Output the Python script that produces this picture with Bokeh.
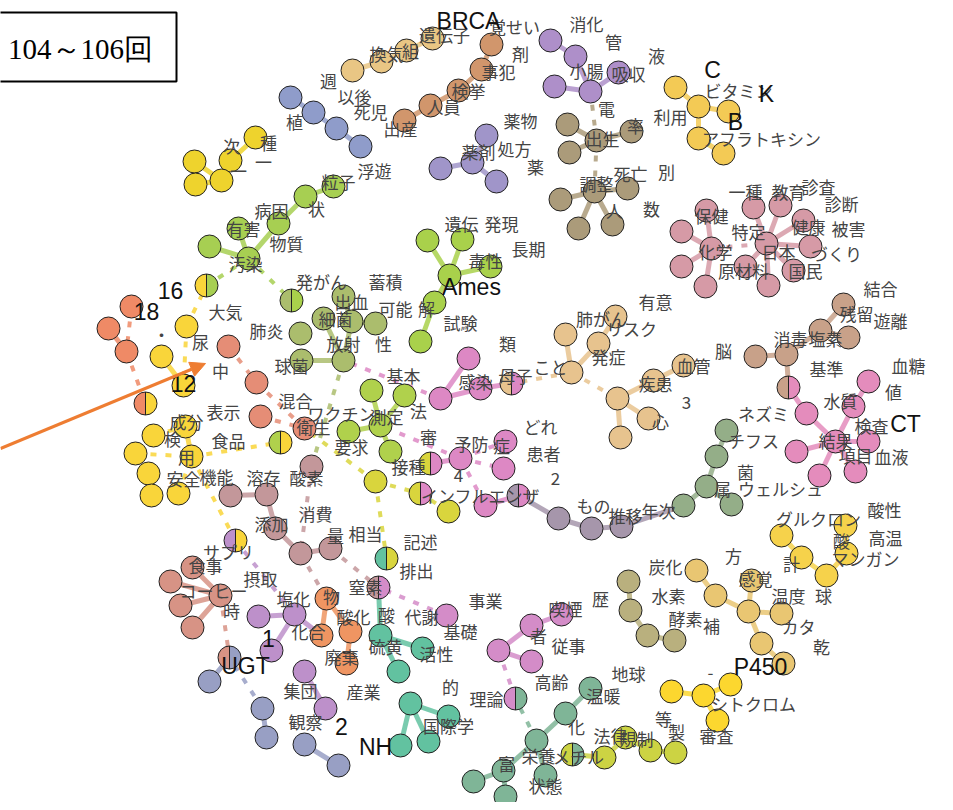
import math
from bokeh.plotting import figure
from bokeh.models import Range1d, Arrow, NormalHead
from bokeh.core.properties import value
from bokeh.embed import file_html
from bokeh.resources import INLINE

# ---------------- data: clusters (id, x, y) in layout coordinates ----------------
tan_nodes = [("a1", 354, 72), ("a2", 383, 63), ("a3", 408, 52), ("a4", 434, 40)]
brown_nodes = [("b1", 493, 46), ("b2", 483, 71), ("b3", 460, 92), ("b4", 432, 107), ("b5", 406, 122)]
digest_nodes = [("c1", 552, 42), ("c2", 577, 58), ("c3", 556, 88), ("c4", 592, 93), ("c5", 620, 74)]
drug_nodes = [("n1", 488, 137), ("n2", 474, 164), ("n3", 442, 170), ("n4", 498, 183)]
birth_nodes = [("d1", 569, 126), ("d2", 598, 142), ("d3", 633, 133), ("d4", 571, 154), ("d5", 596, 193),
               ("d6", 562, 201), ("d7", 629, 190), ("d8", 580, 230), ("d9", 614, 226)]
vitamin_nodes = [("e1", 677, 89), ("e2", 700, 108), ("e3", 730, 113), ("e4", 700, 140), ("e5", 725, 155)]
float_nodes = [("f1", 292, 99), ("f2", 315, 114), ("f3", 338, 130), ("f4", 362, 148)]
kind_nodes = [("g1", 257, 139), ("g2", 232, 162), ("g3", 196, 163), ("g4", 197, 186), ("g5", 223, 182)]
pollute_nodes = [("h1", 335, 188), ("h2", 307, 198), ("h3", 280, 225), ("h4", 240, 230), ("h5", 211, 248), ("h6", 250, 260)]
red_nodes = [("i1", 133, 308), ("i2", 110, 330), ("i3", 128, 353)]
gold_nodes = [("j1", 188, 328), ("j2", 163, 358), ("j3", 185, 387), ("k1", 155, 437), ("k2", 137, 455),
              ("k3", 150, 475), ("k4", 153, 497), ("k5", 180, 495), ("k6", 193, 458), ("k7", 187, 428)]
salmon_nodes = [("l1", 230, 348), ("l2", 258, 384), ("l3", 262, 418), ("l4", 306, 430)]
bact_nodes = [("m1", 345, 298), ("m2", 325, 320), ("m3", 302, 335), ("m4", 353, 323), ("m5", 377, 325),
              ("m6", 345, 362), ("m7", 303, 362)]
ames_nodes = [("am1", 429, 242), ("am2", 464, 241), ("am3", 451, 277), ("am4", 492, 268), ("am5", 436, 304), ("am6", 422, 343)]
vaccine_nodes = [("o1", 373, 392), ("o2", 406, 397), ("o3", 350, 433), ("o4", 392, 453), ("o5", 382, 427)]
infect_nodes = [("q1", 470, 360), ("q2", 442, 400), ("q3", 482, 390), ("r1", 507, 443), ("r2", 462, 460),
                ("r3", 505, 470), ("r4", 487, 507)]
demand_nodes = [("p1", 377, 483), ("p2", 450, 513)]
trend_nodes = [("t1", 560, 520), ("t2", 593, 530), ("t3", 623, 528)]
typhus_nodes = [("u1", 728, 432), ("u2", 718, 458), ("u3", 708, 488), ("u4", 733, 506), ("u5", 685, 507)]
risk_nodes = [("v1", 617, 318), ("v2", 567, 336), ("v3", 600, 345), ("v4", 573, 374), ("v5", 655, 382),
              ("v6", 685, 367), ("v7", 619, 400), ("v8", 650, 420), ("v9", 622, 439)]
chlorine_nodes = [("w1", 845, 306), ("w2", 822, 332), ("w3", 850, 339), ("w4", 788, 356), ("w5", 757, 358)]
blood_nodes = [("x1", 870, 383), ("x2", 855, 408), ("x3", 808, 415), ("x4", 837, 443), ("x5", 798, 453),
               ("x6", 870, 443), ("x7", 857, 473), ("x8", 821, 477)]
health_nodes = [("y1", 708, 212), ("y2", 755, 209), ("y3", 782, 207), ("y4", 805, 222), ("y5", 683, 233),
                ("y6", 713, 250), ("y7", 768, 245), ("y8", 812, 248), ("y9", 683, 268), ("y10", 747, 268),
                ("y11", 795, 272), ("y12", 707, 288), ("y13", 770, 287)]
acid_nodes = [("z1", 783, 537), ("z2", 803, 559), ("z3", 828, 577), ("z4", 848, 555), ("z5", 847, 527)]
sense_nodes = [("aa1", 698, 572), ("aa2", 717, 597), ("aa3", 750, 613), ("aa4", 753, 582), ("aa5", 783, 615),
               ("aa6", 763, 645), ("aa7", 785, 665)]
hydro_nodes = [("bb1", 630, 583), ("bb2", 632, 612), ("bb3", 649, 637), ("bb4", 676, 642)]
p450_nodes = [("cc1", 673, 693), ("cc2", 705, 697), ("cc3", 732, 686), ("cc4", 719, 722)]
law_nodes = [("dd1", 606, 759), ("dd2", 627, 739), ("dd3", 652, 752), ("dd4", 677, 754)]
warm_nodes = [("ee1", 592, 690), ("ee2", 567, 715), ("ee3", 538, 742), ("ee4", 505, 772), ("ee5", 547, 777),
              ("ee6", 475, 783), ("ee7", 507, 798)]
smoke_nodes = [("ff0", 448, 617), ("ff1", 533, 627), ("ff2", 563, 616), ("ff3", 500, 652), ("ff4", 533, 663)]
nh_nodes = [("gg1", 412, 705), ("gg2", 450, 718), ("gg3", 402, 747), ("gg4", 430, 743), ("gg5", 400, 673),
            ("gg6", 424, 650), ("gg7", 382, 637)]
waste_nodes = [("hh1", 328, 600), ("hh2", 323, 637), ("hh3", 352, 633), ("hh4", 348, 665)]
salt_nodes = [("ii1", 260, 618), ("ii2", 296, 616), ("ii3", 273, 652), ("ii4", 306, 673), ("ii5", 327, 710)]
oxygen_nodes = [("jj0", 313, 468), ("jj1", 232, 497), ("jj2", 268, 496), ("jj3", 277, 530), ("jj4", 302, 555),
                ("jj5", 332, 550)]
coffee_nodes = [("kk1", 194, 569), ("kk2", 172, 583), ("kk3", 222, 597), ("kk4", 182, 607), ("kk5", 194, 629)]
ugt_nodes = [("ll1", 211, 683), ("ll2", 264, 710), ("ll3", 268, 739), ("ll4", 306, 746), ("ll5", 340, 767)]

# nodes shared by two communities: (id, x, y, left community, right community)
split_nodes = [("s1", 208, 287, "gold", "pollute"), ("s2", 147, 405, "red", "gold"),
               ("s3", 293, 302, "bact", "ames"), ("s4", 282, 444, "vaccine", "gold"),
               ("s5", 513, 385, "risk", "infect"), ("s6", 432, 465, "demand", "infect"),
               ("s7", 422, 495, "demand", "infect"), ("s8", 520, 497, "trend", "infect"),
               ("s9", 790, 389, "chlorine", "blood"), ("s10", 237, 542, "salt", "gold"),
               ("s11", 388, 560, "nh", "demand"), ("s12", 380, 589, "oxygen", "smoke"),
               ("s13", 517, 700, "smoke", "warm"), ("s14", 574, 756, "law", "warm"),
               ("s15", 231, 659, "coffee", "ugt")]

community_colors = {
    "tan": "#E9C684", "brown": "#D1966C", "digest": "#AE8FC9", "drug": "#A095C9", "birth": "#AB9B7A",
    "vitamin": "#F3CA55", "float": "#8F9CCA", "kind": "#EED32D", "pollute": "#A7CF52", "red": "#EF8A66",
    "gold": "#F9D53A", "salmon": "#E58D76", "bact": "#ABBD6D", "ames": "#A9D14B", "vaccine": "#B0D14C",
    "infect": "#DD88C4", "demand": "#D9D53D", "trend": "#A696AB", "typhus": "#94AE88", "risk": "#E7C38E",
    "chlorine": "#C8A189", "blood": "#E48CBC", "health": "#D69AA6", "acid": "#F6D24B", "sense": "#E9C672",
    "hydro": "#B9B07E", "p450": "#FCD72F", "law": "#CCD343", "warm": "#7FB597", "smoke": "#D48CC8",
    "nh": "#62C2A0", "waste": "#EF9562", "salt": "#BD90CA", "oxygen": "#C3979A", "coffee": "#D79385",
    "ugt": "#989FC4",
}

solid_edges = [
    ("a1", "a2"), ("a2", "a3"), ("a3", "a4"),
    ("b1", "b2"), ("b2", "b3"), ("b3", "b4"), ("b4", "b5"),
    ("c1", "c2"), ("c2", "c4"), ("c3", "c4"), ("c4", "c5"),
    ("n1", "n2"), ("n2", "n3"), ("n2", "n4"),
    ("d1", "d2"), ("d3", "d2"), ("d4", "d2"), ("d5", "d6"), ("d5", "d7"), ("d5", "d8"), ("d5", "d9"),
    ("e1", "e2"), ("e2", "e3"), ("e2", "e4"), ("e4", "e5"),
    ("f1", "f2"), ("f2", "f3"), ("f3", "f4"),
    ("g1", "g2"), ("g2", "g5"), ("g3", "g5"), ("g4", "g5"), ("g3", "g4"),
    ("h1", "h2"), ("h2", "h3"), ("h3", "h6"), ("h4", "h6"), ("h5", "h6"),
    ("i2", "i3"), ("j2", "j3"), ("k7", "k6"),
    ("m7", "m6"), ("m2", "m6"), ("m4", "m6"), ("m1", "m4"), ("m5", "m4"),
    ("am1", "am3"), ("am2", "am3"), ("am4", "am3"), ("am3", "am5"), ("am5", "am6"),
    ("o5", "o1"), ("o5", "o2"), ("o5", "o3"), ("o5", "o4"),
    ("q1", "q2"), ("q2", "q3"), ("q3", "s5"), ("r2", "s6"), ("r4", "s8"),
    ("t1", "s8"), ("t1", "t2"), ("t2", "t3"), ("t3", "u5"),
    ("u1", "u2"), ("u2", "u3"), ("u3", "u4"), ("u3", "u5"),
    ("v1", "v3"), ("v2", "v4"), ("v3", "v4"), ("v5", "v6"), ("v5", "v7"), ("v7", "v8"), ("v7", "v9"),
    ("w1", "w2"), ("w2", "w3"), ("w2", "w4"), ("w4", "w5"), ("w4", "s9"),
    ("x3", "s9"), ("x3", "x4"), ("x2", "x4"), ("x1", "x2"), ("x4", "x5"), ("x4", "x6"), ("x4", "x7"), ("x4", "x8"),
    ("y6", "y1"), ("y6", "y5"), ("y6", "y9"), ("y6", "y12"), ("y7", "y2"), ("y7", "y3"), ("y7", "y4"),
    ("y7", "y8"), ("y7", "y10"), ("y7", "y11"), ("y7", "y13"),
    ("z1", "z2"), ("z2", "z3"), ("z3", "z4"), ("z4", "z5"),
    ("aa1", "aa2"), ("aa2", "aa3"), ("aa3", "aa4"), ("aa3", "aa5"), ("aa3", "aa6"), ("aa6", "aa7"),
    ("bb1", "bb2"), ("bb2", "bb3"), ("bb3", "bb4"),
    ("cc1", "cc2"), ("cc2", "cc3"), ("cc2", "cc4"),
    ("dd1", "s14"), ("dd1", "dd2"), ("dd2", "dd3"), ("dd3", "dd4"),
    ("ee1", "ee2"), ("ee2", "ee3"), ("ee3", "ee4"), ("ee3", "ee5"), ("ee4", "ee6"), ("ee4", "ee7"),
    ("ff2", "ff1"), ("ff1", "ff3"), ("ff3", "ff4"),
    ("gg1", "gg2"), ("gg1", "gg3"), ("gg1", "gg4"), ("gg7", "gg5"), ("gg7", "gg6"), ("gg7", "s12"),
    ("hh1", "hh2"), ("hh1", "hh3"), ("hh3", "hh4"),
    ("ii1", "ii2"), ("ii2", "ii3"), ("ii4", "ii5"), ("ii2", "hh2"),
    ("jj1", "jj2"), ("jj2", "jj3"), ("jj3", "jj4"), ("jj4", "jj5"),
    ("kk1", "kk3"), ("kk2", "kk3"), ("kk4", "kk3"), ("kk5", "kk3"),
    ("ll1", "s15"), ("ll2", "ll3"), ("ll4", "ll5"),
]

dashed_edges = [
    ("d2", "c4"), ("d2", "d5"), ("h6", "s1"), ("h6", "s3"), ("i1", "i3"), ("i3", "s2"),
    ("j1", "s1"), ("j1", "j3"), ("l1", "l2"), ("l2", "l4"), ("l3", "l4"),
    ("k1", "k7"), ("k2", "k6"), ("k5", "k6"), ("k6", "s4"), ("k6", "s10"),
    ("m6", "jj0"), ("q2", "m6"), ("p1", "l4"), ("r2", "o5"), ("r2", "r1"), ("r2", "r3"), ("r2", "r4"),
    ("p1", "s7"), ("p2", "s7"), ("p1", "s11"), ("v4", "s5"), ("v4", "v7"), ("y6", "y7"),
    ("jj0", "jj4"), ("jj5", "s12"), ("jj4", "hh1"), ("kk3", "s15"), ("ll2", "s15"),
    ("ii2", "s10"), ("ff0", "s12"), ("ff3", "s13"), ("ee3", "s13"),
]

# word labels (text, x, y)
word_labels = [
    ("週", 330, 82), ("以後", 356, 98), ("換気", 388, 55), ("組", 412, 52), ("遺伝子", 446, 36),
    ("覚せい", 516, 28), ("剤", 522, 55), ("事犯", 500, 73), ("検挙", 470, 92), ("人員", 445, 108),
    ("死児", 372, 113), ("出産", 402, 130), ("植", 296, 123), ("浮遊", 376, 172), ("粒子", 340, 183),
    ("次", 233, 147), ("種", 270, 144), ("一", 265, 163), ("一", 240, 172),
    ("消化", 588, 25), ("管", 615, 43), ("液", 658, 57), ("小腸", 588, 72), ("吸収", 630, 75),
    ("薬物", 522, 122), ("処方", 516, 150), ("薬剤", 480, 153), ("薬", 537, 168),
    ("電", 608, 110), ("率", 637, 127), ("出生", 604, 140), ("利用", 672, 118),
    ("ビタミン", 740, 92), ("アフラトキシン", 763, 140),
    ("調整", 598, 185), ("死亡", 632, 175), ("別", 668, 173), ("人", 616, 212), ("数", 653, 210),
    ("一種", 747, 193), ("教育", 790, 193), ("診査", 820, 188), ("診断", 843, 205), ("保健", 713, 217),
    ("特定", 750, 233), ("健康", 810, 228), ("被害", 850, 230), ("化学", 717, 253), ("日本", 780, 253),
    ("づくり", 838, 255), ("原材料", 745, 272), ("国民", 807, 272),
    ("病因", 273, 212), ("状", 318, 210), ("有害", 245, 230), ("物質", 288, 245), ("汚染", 247, 265),
    ("遺伝", 463, 225), ("発現", 503, 225), ("長期", 530, 250), ("毒性", 487, 262), ("試験", 462, 324),
    ("大気", 227, 313), ("尿", 202, 343), ("・", 163, 336), ("中", 222, 372), ("表示", 225, 413),
    ("混合", 297, 402), ("衛生", 315, 428), ("ワクチン", 343, 415), ("測定", 388, 418),
    ("発がん", 323, 283), ("蓄積", 387, 283), ("出血", 353, 303), ("可能", 397, 310), ("解", 428, 310),
    ("細菌", 337, 320), ("肺炎", 268, 332), ("放射", 345, 345), ("性", 385, 345), ("球菌", 293, 367),
    ("基本", 405, 377), ("法", 420, 412), ("類", 509, 345), ("こと", 552, 368), ("母子", 517, 377),
    ("感染", 477, 383), ("肺がん", 603, 320), ("有意", 657, 303), ("リスク", 633, 330), ("発症", 610, 358),
    ("脳", 725, 352), ("血管", 695, 367), ("疾患", 657, 385), ("心", 662, 423),
    ("結合", 882, 290), ("残留", 858, 315), ("遊離", 892, 322), ("消毒", 792, 340), ("塩素", 827, 340),
    ("基準", 828, 370), ("血糖", 910, 367), ("値", 895, 393), ("水質", 842, 402), ("ネズミ", 765, 415),
    ("検査", 873, 427), ("結果", 837, 442), ("チフス", 755, 442), ("項目", 857, 457), ("血液", 893, 458),
    ("菌", 747, 473), ("属", 724, 490), ("ウェルシュ", 782, 490),
    ("審", 430, 438), ("予防", 473, 445), ("症", 503, 447), ("どれ", 542, 428), ("患者", 545, 455),
    ("要求", 353, 448), ("接種", 410, 468), ("インフルエンザ", 482, 497), ("もの", 595, 507),
    ("推移", 627, 517), ("年次", 660, 512),
    ("成分", 188, 423), ("検", 174, 440), ("用", 188, 458), ("食品", 230, 442), ("安全", 185, 480),
    ("機能", 218, 478), ("溶存", 265, 479), ("酸素", 308, 479), ("添加", 273, 525), ("消費", 317, 515),
    ("量", 337, 537), ("相当", 367, 535), ("記述", 422, 543), ("排出", 418, 572),
    ("サプリ", 230, 553), ("食事", 207, 567), ("摂取", 262, 580), ("窒素", 367, 588), ("コーヒー", 215, 592),
    ("時", 233, 612), ("塩化", 295, 600), ("物", 333, 598), ("酸化", 355, 618), ("酸", 388, 616),
    ("代謝", 423, 618), ("化合", 310, 633), ("硫黄", 387, 648), ("活性", 438, 655), ("廃棄", 343, 658),
    ("集団", 302, 692), ("産業", 365, 693), ("観察", 307, 723), ("的", 452, 688), ("国際学", 450, 727),
    ("事業", 487, 602), ("基礎", 462, 633), ("理論", 488, 700), ("喫煙", 567, 610), ("歴", 602, 600),
    ("者", 540, 637), ("従事", 570, 647), ("高齢", 553, 683), ("地球", 630, 675), ("温暖", 605, 697),
    ("化", 578, 728), ("法律", 612, 737), ("規制", 638, 740), ("栄養", 540, 757), ("メチル", 580, 758),
    ("富", 508, 765), ("状態", 547, 787),
    ("炭化", 667, 568), ("方", 735, 557), ("水素", 670, 597), ("酵素", 687, 620), ("補", 713, 627),
    ("感覚", 757, 580), ("温度", 790, 597), ("球", 825, 597), ("カタ", 800, 628), ("乾", 823, 648),
    ("グルクロン", 820, 520), ("酸性", 886, 511), ("高温", 887, 539), ("酸", 843, 542), ("マンガン", 867, 560),
    ("計", 793, 565), ("-", 712, 674), ("シトクロム", 755, 705), ("等", 665, 720), ("製", 678, 733),
    ("審査", 718, 737), ("3", 688, 404), ("4", 460, 477), ("2", 557, 480),
]

# latin / numeric labels drawn larger
big_labels = [
    ("BRCA", 470, 22), ("C", 714, 71), ("K", 768, 95), ("B", 737, 123), ("Ames", 473, 288),
    ("16", 172, 292), ("18", 148, 313), ("12", 185, 385), ("CT", 907, 425), ("1", 270, 640),
    ("UGT", 247, 667), ("2", 343, 728), ("NH", 377, 748), ("P450", 762, 668),
]

title_text = "104～106回"
arrow_from = (2, 450)
arrow_to = (207, 365)

# ---------------- build ----------------
clusters = [
    ("tan", tan_nodes), ("brown", brown_nodes), ("digest", digest_nodes), ("drug", drug_nodes),
    ("birth", birth_nodes), ("vitamin", vitamin_nodes), ("float", float_nodes), ("kind", kind_nodes),
    ("pollute", pollute_nodes), ("red", red_nodes), ("gold", gold_nodes), ("salmon", salmon_nodes),
    ("bact", bact_nodes), ("ames", ames_nodes), ("vaccine", vaccine_nodes), ("infect", infect_nodes),
    ("demand", demand_nodes), ("trend", trend_nodes), ("typhus", typhus_nodes), ("risk", risk_nodes),
    ("chlorine", chlorine_nodes), ("blood", blood_nodes), ("health", health_nodes), ("acid", acid_nodes),
    ("sense", sense_nodes), ("hydro", hydro_nodes), ("p450", p450_nodes), ("law", law_nodes),
    ("warm", warm_nodes), ("smoke", smoke_nodes), ("nh", nh_nodes), ("waste", waste_nodes),
    ("salt", salt_nodes), ("oxygen", oxygen_nodes), ("coffee", coffee_nodes), ("ugt", ugt_nodes),
]

pos = {}
col = {}
nx, ny, nc = [], [], []
for cname, items in clusters:
    for nid, x, y in items:
        pos[nid] = (x, y)
        col[nid] = community_colors[cname]
        nx.append(x); ny.append(y); nc.append(community_colors[cname])
for nid, x, y, c1, c2 in split_nodes:
    pos[nid] = (x, y)
    col[nid] = community_colors[c1]

p = figure(width=945, height=802, x_range=Range1d(2, 947), y_range=Range1d(804, 2),
           output_backend="svg", toolbar_location=None, x_axis_type=None, y_axis_type=None,
           min_border=0, min_border_left=0, min_border_right=0, min_border_top=0, min_border_bottom=0)
p.grid.visible = False
p.outline_line_color = None
p.background_fill_color = "white"
p.border_fill_color = "white"

def seg(edges):
    x0, y0, x1, y1, cc = [], [], [], [], []
    for a, b in edges:
        x0.append(pos[a][0]); y0.append(pos[a][1])
        x1.append(pos[b][0]); y1.append(pos[b][1])
        cc.append(col[a])
    return x0, y0, x1, y1, cc

x0, y0, x1, y1, cc = seg(solid_edges)
p.segment(x0, y0, x1, y1, line_color=cc, line_width=5, line_alpha=0.85)
x0, y0, x1, y1, cc = seg(dashed_edges)
p.segment(x0, y0, x1, y1, line_color=cc, line_width=4, line_alpha=0.85, line_dash="6 9")

R = 11.5
# nodes
p.scatter(nx, ny, size=2 * R, fill_color=nc, line_color="#222222", line_width=1)

sx = [s[1] for s in split_nodes]
sy = [s[2] for s in split_nodes]
sl = [community_colors[s[3]] for s in split_nodes]
sr = [community_colors[s[4]] for s in split_nodes]
p.wedge(sx, sy, radius=R, radius_units="screen", start_angle=math.pi / 2, end_angle=3 * math.pi / 2,
        fill_color=sl, line_color=None)
p.wedge(sx, sy, radius=R, radius_units="screen", start_angle=-math.pi / 2, end_angle=math.pi / 2,
        fill_color=sr, line_color=None)
p.segment(sx, [y - R for y in sy], sx, [y + R for y in sy], line_color="#222222", line_width=1)
p.scatter(sx, sy, size=2 * R, fill_color=None, line_color="#222222", line_width=1)

# title box
p.quad(left=[-5], right=[178], top=[14], bottom=[83], fill_color="white", line_color="black", line_width=2)
p.text([82], [50], text=[title_text], text_font=value("Liberation Serif"), text_font_size="29px",
       text_align="center", text_baseline="middle", text_color="black")

# arrow
p.add_layout(Arrow(end=NormalHead(size=15, fill_color="#EE7D32", line_color="#EE7D32"),
                   x_start=arrow_from[0], y_start=arrow_from[1], x_end=arrow_to[0], y_end=arrow_to[1],
                   line_color="#EE7D32", line_width=3))

# labels
p.text([w[1] for w in word_labels], [w[2] for w in word_labels], text=[w[0] for w in word_labels],
       text_font=value("Noto Sans CJK JP"), text_font_size="17px", text_align="center",
       text_baseline="middle", text_color="#444444")
p.text([w[1] for w in big_labels], [w[2] for w in big_labels], text=[w[0] for w in big_labels],
       text_font=value("Liberation Sans"), text_font_size="23px", text_align="center",
       text_baseline="middle", text_color="#111111")

open("out.html", "w").write(file_html(p, INLINE))
